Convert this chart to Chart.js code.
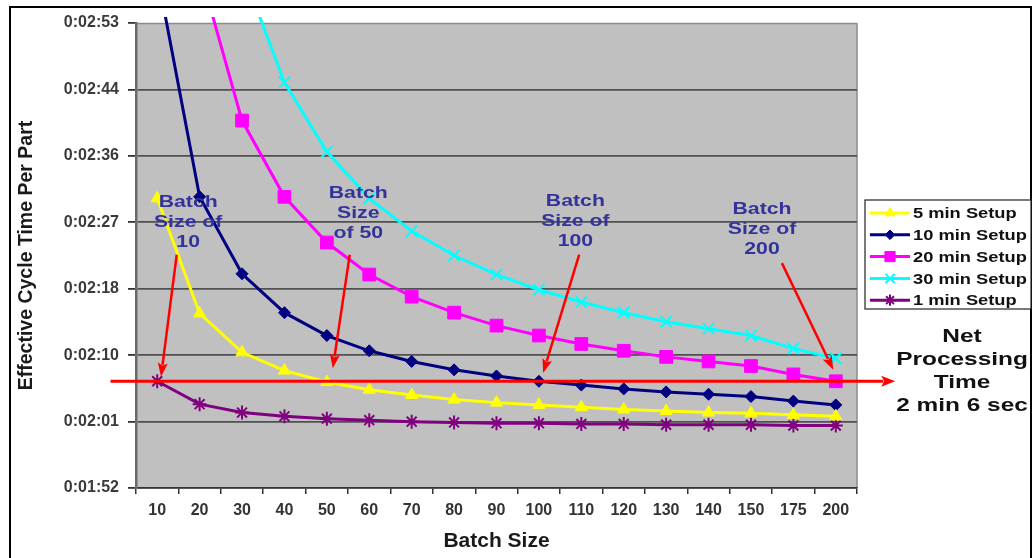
<!DOCTYPE html>
<html>
<head>
<meta charset="utf-8">
<title>Effective Cycle Time Per Part</title>
<script src="https://cdn.jsdelivr.net/npm/chart.js@4.4.1/dist/chart.umd.min.js"></script>
<style>
  html, body { margin: 0; padding: 0; background: #ffffff; }
  canvas { display: block; }
</style>
</head>
<body>
<canvas id="cycleChart" width="1034" height="558"></canvas>
<script>
// Batch sizes on the category axis
const batchSizes = ['10', '20', '30', '40', '50', '60', '70', '80', '90', '100',
                    '110', '120', '130', '140', '150', '175', '200'];

// Effective cycle time per part, in seconds, for each setup time
const setup5min  = [150.0, 134.9, 129.8, 127.4, 125.9, 124.9, 124.2, 123.6, 123.2, 122.9,
                    122.6, 122.3, 122.1, 121.9, 121.8, 121.6, 121.4];
const setup10min = [179.5, 150.2, 140.1, 135.0, 132.0, 130.0, 128.6, 127.5, 126.7, 126.0,
                    125.5, 125.0, 124.6, 124.3, 124.0, 123.4, 122.9];
const setup20min = [240.0, 180.0, 160.2, 150.2, 144.2, 140.0, 137.1, 135.0, 133.3, 132.0,
                    130.9, 130.0, 129.2, 128.6, 128.0, 126.9, 126.0];
const setup30min = [300.0, 210.0, 180.0, 165.2, 156.1, 150.0, 145.7, 142.5, 140.0, 138.0,
                    136.4, 135.0, 133.8, 132.9, 132.0, 130.3, 129.0];
const setup1min  = [126.0, 123.0, 121.9, 121.4, 121.1, 120.9, 120.7, 120.6, 120.5, 120.5,
                    120.4, 120.4, 120.3, 120.3, 120.3, 120.2, 120.2];

const seriesNames = ['5 min Setup', '10 min Setup', '20 min Setup', '30 min Setup', '1 min Setup'];

// Net processing time: 2 min 6 sec
const netProcessingSeconds = 126;
const netProcessingLines = ['Net', 'Processing', 'Time', '2 min 6 sec'];

// Value axis range and its tick labels (h:mm:ss)
const yMin = 112;
const yMax = 173;
const yTickLabels = ['0:01:52', '0:02:01', '0:02:10', '0:02:18', '0:02:27', '0:02:36', '0:02:44', '0:02:53'];

// Call-out notes pointing at the net processing line
const calloutTexts = [
  ['Batch', 'Size of', '10'],
  ['Batch', 'Size', 'of 50'],
  ['Batch', 'Size of', '100'],
  ['Batch', 'Size of', '200']
];

const FONT = '"Liberation Sans", Arial, Helvetica, sans-serif';

// Placement of call-outs in axis units: [category index, seconds]
const calloutLayout = [
  { text: [0.73, 149.5],  tail: [0.46, 142.6],  tip: [0.09, 126.6] },
  { text: [4.74, 150.7],  tail: [4.54, 142.6],  tip: [4.14, 127.7] },
  { text: [9.86, 149.6],  tail: [9.95, 142.6],  tip: [9.10, 127.1] },
  { text: [14.26, 148.6], tail: [14.73, 141.5], tip: [15.94, 127.5] }
];

// Text drawn a little wider than the face's natural width
function wideText(ctx, text, x, y, sx) {
  ctx.save();
  ctx.translate(x, y);
  ctx.scale(sx, 1);
  ctx.fillText(text, 0, 0);
  ctx.restore();
}

function drawArrow(ctx, x1, y1, x2, y2, headLen, headWidth) {
  const ang = Math.atan2(y2 - y1, x2 - x1);
  const bx = x2 - headLen * Math.cos(ang);
  const by = y2 - headLen * Math.sin(ang);
  ctx.beginPath();
  ctx.moveTo(x1, y1);
  ctx.lineTo(bx + 2 * Math.cos(ang), by + 2 * Math.sin(ang));
  ctx.stroke();
  const hx = headWidth / 2 * Math.sin(ang);
  const hy = headWidth / 2 * Math.cos(ang);
  ctx.beginPath();
  ctx.moveTo(x2, y2);
  ctx.lineTo(bx + hx, by - hy);
  ctx.lineTo(bx + 3 * Math.cos(ang), by + 3 * Math.sin(ang));
  ctx.lineTo(bx - hx, by + hy);
  ctx.closePath();
  ctx.fill();
}

// Grey plot area and the outer black frame
const plotBackground = {
  id: 'plotBackground',
  beforeDraw(chart) {
    const { ctx, chartArea: a } = chart;
    ctx.save();
    ctx.fillStyle = '#ffffff';
    ctx.fillRect(0, 0, chart.width, chart.height);
    ctx.fillStyle = '#c0c0c0';
    ctx.fillRect(a.left, a.top, a.right - a.left, a.bottom - a.top);
    ctx.strokeStyle = '#8c8c8c';
    ctx.lineWidth = 1.5;
    ctx.beginPath();
    ctx.moveTo(a.right, a.top);
    ctx.lineTo(a.right, a.bottom);
    ctx.moveTo(a.left, a.top + 0.5);
    ctx.lineTo(a.right, a.top + 0.5);
    ctx.stroke();
    ctx.strokeStyle = '#000000';
    ctx.lineWidth = 2;
    ctx.strokeRect(10, 7, 1021, 600);
    ctx.restore();
  }
};

// Net processing line, call-out arrows and their notes
const callouts = {
  id: 'callouts',
  afterDatasetsDraw(chart) {
    const { ctx, scales: { x, y } } = chart;
    ctx.save();
    ctx.strokeStyle = '#ff0000';
    ctx.fillStyle = '#ff0000';
    ctx.lineWidth = 3;
    ctx.lineCap = 'butt';

    const netY = y.getPixelForValue(netProcessingSeconds);
    drawArrow(ctx, x.getPixelForValue(-1.1), netY, x.getPixelForValue(17.4), netY, 14, 11);

    calloutLayout.forEach((c, i) => {
      ctx.strokeStyle = '#ff0000';
      ctx.fillStyle = '#ff0000';
      ctx.lineWidth = 2.5;
      drawArrow(ctx,
        x.getPixelForValue(c.tail[0]), y.getPixelForValue(c.tail[1]),
        x.getPixelForValue(c.tip[0]), y.getPixelForValue(c.tip[1]), 14, 10);
      ctx.fillStyle = '#333399';
      ctx.font = 'bold 17px ' + FONT;
      ctx.textAlign = 'center';
      ctx.textBaseline = 'middle';
      const tx = x.getPixelForValue(c.text[0]);
      const ty = y.getPixelForValue(c.text[1]);
      calloutTexts[i].forEach((line, k) => wideText(ctx, line, tx, ty + k * 20, 1.25));
    });
    ctx.restore();
  },
  afterDraw(chart) {
    const { ctx, chartArea: a, scales: { y } } = chart;
    ctx.save();

    // Legend box with line-and-marker samples
    const left = a.right + 8, top = 200, w = 166, h = 109;
    ctx.fillStyle = '#ffffff';
    ctx.fillRect(left, top, w, h);
    ctx.strokeStyle = '#222222';
    ctx.lineWidth = 1.2;
    ctx.strokeRect(left, top, w, h);
    chart.data.datasets.forEach((ds, i) => {
      const ry = top + 13 + i * 21.8;
      ctx.strokeStyle = ds.borderColor;
      ctx.lineWidth = 3;
      ctx.beginPath();
      ctx.moveTo(left + 5, ry);
      ctx.lineTo(left + 45, ry);
      ctx.stroke();
      ctx.fillStyle = ds.pointBackgroundColor;
      ctx.strokeStyle = ds.pointBorderColor;
      ctx.lineWidth = ds.pointBorderWidth;
      Chart.helpers.drawPoint(ctx, {
        pointStyle: ds.pointStyle, radius: ds.pointRadius * 0.8,
        rotation: 0, borderWidth: ds.pointBorderWidth
      }, left + 25, ry);
      ctx.fillStyle = '#111111';
      ctx.font = 'bold 15px ' + FONT;
      ctx.textAlign = 'left';
      ctx.textBaseline = 'middle';
      wideText(ctx, ds.label, left + 48, ry + 1, 1.22);
    });

    // Net processing time note
    const netY = y.getPixelForValue(netProcessingSeconds);
    ctx.fillStyle = '#111111';
    ctx.font = 'bold 18.5px ' + FONT;
    ctx.textAlign = 'center';
    ctx.textBaseline = 'middle';
    netProcessingLines.forEach((line, k) => wideText(ctx, line, a.right + 105, netY - 44 + k * 23, 1.32));
    ctx.restore();
  }
};

function series(label, data, color, style, radius, fill) {
  return {
    label, data,
    borderColor: color,
    backgroundColor: color,
    borderWidth: 3,
    pointStyle: style,
    pointRadius: radius,
    pointHoverRadius: radius,
    pointBackgroundColor: fill ? color : 'rgba(0,0,0,0)',
    pointBorderColor: color,
    pointBorderWidth: fill ? 1 : 2,
    tension: 0,
    clip: { left: 10, top: 6, right: 10, bottom: 10 }
  };
}

new Chart(document.getElementById('cycleChart'), {
  type: 'line',
  data: {
    labels: batchSizes,
    datasets: [
      series(seriesNames[0], setup5min,  '#ffff00', 'triangle', 7, true),
      series(seriesNames[1], setup10min, '#000080', 'rectRot',  6, true),
      series(seriesNames[2], setup20min, '#ff00ff', 'rect',     9, true),
      series(seriesNames[3], setup30min, '#00ffff', 'crossRot', 8, false),
      series(seriesNames[4], setup1min,  '#800080', 'star',     7, false)
    ]
  },
  options: {
    responsive: false,
    animation: false,
    devicePixelRatio: 1,
    layout: { padding: { left: 0, top: 23, right: 177, bottom: 0 } },
    plugins: {
      legend: { display: false },
      tooltip: { enabled: false }
    },
    scales: {
      x: {
        type: 'category',
        offset: true,
        afterFit(scale) { scale.height = 70; },
        grid: {
          offset: true,
          drawOnChartArea: false,
          drawTicks: true,
          tickLength: 6,
          tickColor: '#333333',
          lineWidth: 1.5
        },
        border: { display: true, color: '#333333', width: 1.5 },
        ticks: {
          autoSkip: false,
          maxRotation: 0,
          padding: 7,
          color: '#333333',
          font: { family: FONT, size: 16, weight: 'bold' }
        },
        title: {
          display: true,
          text: 'Batch Size',
          color: '#1a1a1a',
          font: { family: FONT, size: 21, weight: 'bold' },
          padding: { top: 0, bottom: 4 }
        }
      },
      y: {
        min: yMin,
        max: yMax,
        afterFit(scale) { scale.width = 136; },
        afterBuildTicks(scale) {
          const n = yTickLabels.length;
          scale.ticks = yTickLabels.map((_, i) => ({ value: yMin + i * (yMax - yMin) / (n - 1) }));
        },
        grid: {
          color: (c) => (c.index === yTickLabels.length - 1 ? 'rgba(0,0,0,0)' : '#505050'),
          tickColor: '#333333',
          lineWidth: 1.8,
          tickLength: 8
        },
        border: { display: true, color: '#6a6a6a', width: 2.5 },
        ticks: {
          padding: 9,
          color: '#3a3a3a',
          font: { family: FONT, size: 16, weight: 'bold' },
          callback: (value, index) => yTickLabels[index]
        },
        title: {
          display: true,
          text: 'Effective Cycle Time Per Part',
          color: '#1a1a1a',
          font: { family: FONT, size: 19.5, weight: 'bold' },
          padding: { top: 15, bottom: 0 }
        }
      }
    }
  },
  plugins: [plotBackground, callouts]
});
</script>
</body>
</html>
